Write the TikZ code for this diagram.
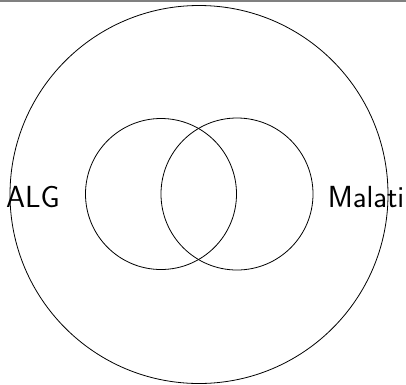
\documentclass[tikz,border=0pt]{standalone}
\usepackage{fontspec}
\usepackage{tikz}
\usetikzlibrary{positioning}

\begin{document}
\begin{tikzpicture}[
  x=1pt, y=-1pt,
  every node/.style={font=\sffamily\fontsize{30.5}{36}\selectfont},
  set/.style={draw, circle, inner sep=0pt, line width=0.8pt},
  lbl/.style={inner sep=0pt}
]
\useasboundingbox (0,0) rectangle (406,384);

%% frame rule at top
\coordinate (tl) at (0,1);
\coordinate (tr) at (406,1);
\draw[gray, line width=2pt] (tl) -- (tr);

%% universe and the two sets
\node[set, minimum size=378pt] (univ) at (199,194.5) {};
\node[set, minimum size=151pt] (setA) at (161,194) {};
\node[set, minimum size=152pt] (setB) at (237,194) {};

%% labels
\node[lbl] (alg) at (33,197) {ALG};
\node[lbl] (malati) at (366,197.5) {Malati};

\end{tikzpicture}
\end{document}
